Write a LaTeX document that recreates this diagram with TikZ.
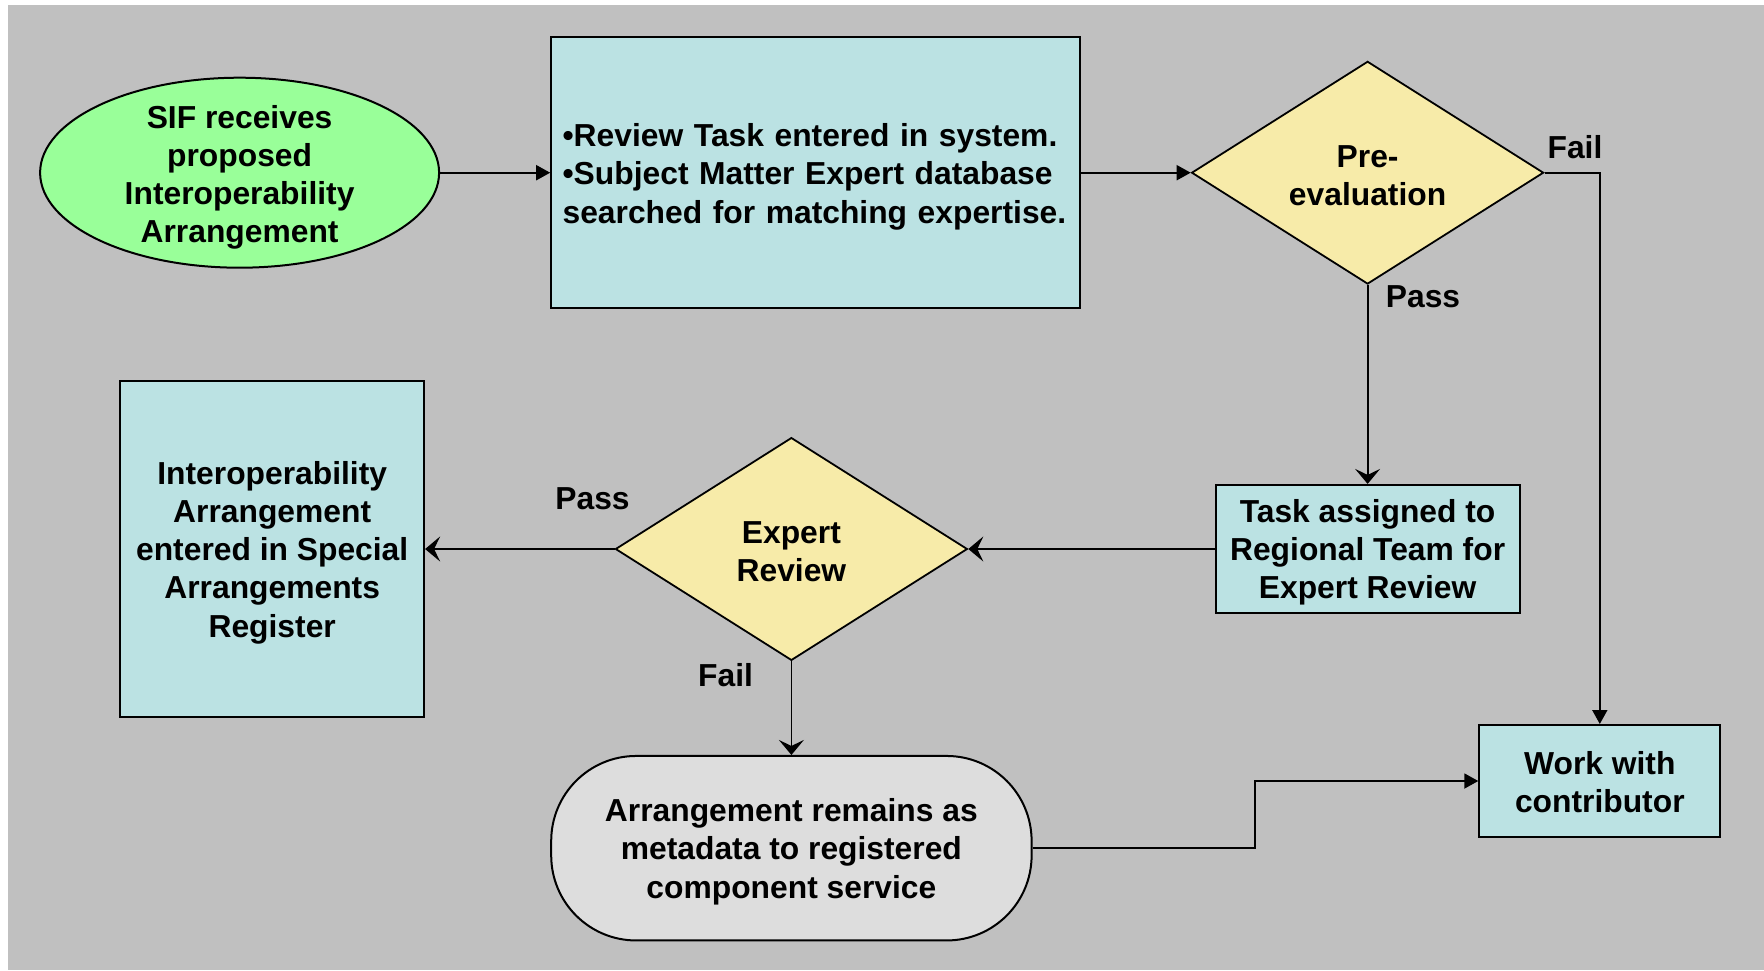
\documentclass[tikz,border=0pt]{standalone}
\usepackage{fontspec}
\setmainfont{Liberation Sans}
\usetikzlibrary{shapes.geometric,arrows.meta}
\definecolor{bggray}{HTML}{C0C0C0}
\definecolor{boxcyan}{HTML}{BBE2E3}
\definecolor{diayellow}{HTML}{F7EBA9}
\definecolor{sifgreen}{HTML}{99FF99}
\definecolor{arrgray}{HTML}{DDDDDD}
\begin{document}
\begin{tikzpicture}[x=1pt,y=-1pt,
  txt/.style={font=\fontsize{31.8}{38.2}\selectfont\bfseries, align=center},
  box/.style={draw, line width=2pt, fill=boxcyan, inner sep=0pt},
  dia/.style={draw, line width=1.8pt, fill=diayellow, diamond, inner sep=0pt},
  con/.style={line width=1.8pt},
  tri/.style={-{Triangle[length=14pt,width=15pt]}},
  stl/.style={-{Stealth[length=15pt,width=25pt,inset=6pt]}}
]
\useasboundingbox (0,0) rectangle (1764,970);
\fill[white] (0,0) rectangle (1764,970);
\fill[bggray] (8,5) rectangle (1764,970);

\node[ellipse, draw, line width=2pt, fill=sifgreen, minimum width=399pt, minimum height=190pt, inner sep=0pt,
  label={[txt,yshift=-4.5pt]center:{SIF receives\\proposed\\Interoperability\\Arrangement}}] (sif) at (239.6,172.7) {};

\node[box, minimum width=528.8pt, minimum height=271.1pt,
  label={[txt,text width=506pt,align=left,yshift=-4pt]center:{•Review Task entered in system.\\•Subject Matter Expert database\\searched for matching expertise.}}] (review) at (815.6,172.7) {};

\node[dia, minimum width=352pt, minimum height=222.7pt,
  label={[txt,yshift=-3pt]center:{Pre-\\evaluation}}] (pre) at (1367.6,172.7) {};

\node[box, minimum width=303.8pt, minimum height=128.2pt,
  label={[txt,yshift=-3.5pt]center:{Task assigned to\\Regional Team for\\Expert Review}}] (task) at (1367.6,549) {};

\node[dia, minimum width=352pt, minimum height=222.8pt,
  label={[txt,yshift=-3pt]center:{Expert\\Review}}] (expert) at (791.4,549) {};

\node[box, minimum width=303.8pt, minimum height=336.4pt,
  label={[txt,yshift=-3.5pt]center:{Interoperability\\Arrangement\\entered in Special\\Arrangements\\Register}}] (reg) at (272.2,549) {};

\node[draw, line width=2pt, fill=arrgray, rounded corners=85pt, minimum width=480.4pt, minimum height=184.5pt, inner sep=0pt,
  label={[txt,yshift=-3.5pt]center:{Arrangement remains as\\metadata to registered\\component service}}] (arr) at (791.4,848.2) {};

\node[box, minimum width=241pt, minimum height=112pt,
  label={[txt,yshift=-1.5pt]center:{Work with\\contributor}}] (work) at (1599.8,781) {};

\node[txt] (lfail1) at (1575,147.4) {Fail};
\node[txt] (lpass1) at (1423,297) {Pass};
\node[txt] (lpass2) at (592.5,498.4) {Pass};
\node[txt] (lfail2) at (725.6,675) {Fail};

\draw[con,tri] (sif.east) -- (review.west);
\draw[con,tri] (review.east) -- (pre.west);
\draw[con,tri] (pre.east) -| (work.north);
\draw[con,stl] (pre.south) -- (task.north);
\draw[con,stl] (task.west) -- (expert.east);
\draw[con,stl] (expert.west) -- (reg.east);
\draw[con,stl] (expert.south) -- (arr.north);
\coordinate (bend) at (1255.3,848.2);
\draw[con,tri] (arr.east) -- (bend) |- (work.west);
\end{tikzpicture}
\end{document}
